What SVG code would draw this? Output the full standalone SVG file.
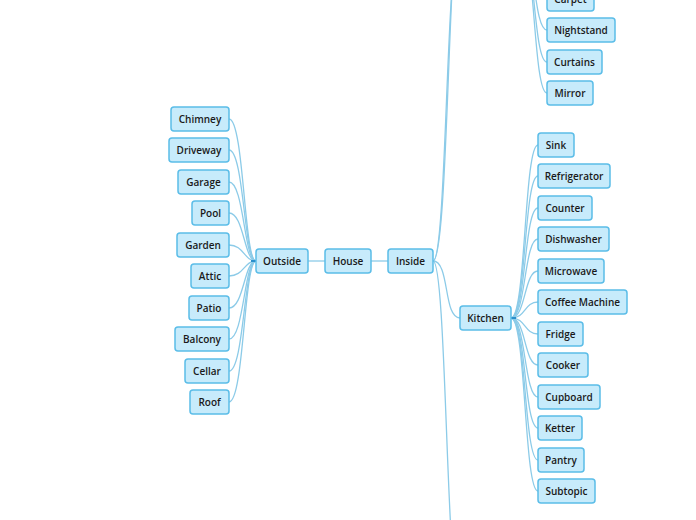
<svg xmlns="http://www.w3.org/2000/svg" width="696" height="520" viewBox="0 0 696 520">
<style>
.n rect{fill:#c7ebfb;stroke:#5bbde8;stroke-width:1.5}
.n text{font-family:"Open Sans","Noto Sans","DejaVu Sans",sans-serif;font-size:10px;font-weight:600;fill:#1a1a1a;text-anchor:middle;dominant-baseline:central}
.c path{fill:none;stroke:#8ccbe8;stroke-width:1.3}
.c .j{stroke:#2a8fcb;stroke-width:2}
</style>
<rect width="696" height="520" fill="#ffffff"/>
<g id="connectors" class="c">
<path d="M256,261 C244,261 244,119 229,119"/>
<path d="M256,261 C244,261 244,150 229,150"/>
<path d="M256,261 C244,261 244,182 229,182"/>
<path d="M256,261 C244,261 244,213 229,213"/>
<path d="M256,261 C244,261 244,245 229,245"/>
<path d="M256,261 C244,261 244,276 229,276"/>
<path d="M256,261 C244,261 244,308 229,308"/>
<path d="M256,261 C244,261 244,339 229,339"/>
<path d="M256,261 C244,261 244,371 229,371"/>
<path d="M256,261 C244,261 244,402 229,402"/>
<path d="M308,261 L325,261"/>
<path d="M371,261 L388,261"/>
<path d="M433,261 C447,261 446,-60 460,-60"/>
<path d="M433,261 C449,261 448,-100 462,-100"/>
<path d="M433,261 C450,261 443,318 460,318"/>
<path d="M433,261 C447,261 446,600 460,600"/>
<path d="M520,-60 C535,-60 533,-1 547,-1"/>
<path d="M520,-60 C535,-60 533,30 547,30"/>
<path d="M520,-60 C535,-60 533,62 547,62"/>
<path d="M520,-60 C535,-60 533,93 547,93"/>
<path d="M511,318 C526,318 524,145 538,145"/>
<path d="M511,318 C526,318 524,176 538,176"/>
<path d="M511,318 C526,318 524,208 538,208"/>
<path d="M511,318 C526,318 524,239 538,239"/>
<path d="M511,318 C526,318 524,271 538,271"/>
<path d="M511,318 C526,318 524,302 538,302"/>
<path d="M511,318 C526,318 524,334 538,334"/>
<path d="M511,318 C526,318 524,365 538,365"/>
<path d="M511,318 C526,318 524,397 538,397"/>
<path d="M511,318 C526,318 524,428 538,428"/>
<path d="M511,318 C526,318 524,460 538,460"/>
<path d="M511,318 C526,318 524,491 538,491"/>
<path class="j" d="M251,261 L256,261"/>
<path class="j" d="M511,318 L516,318"/>
</g>
<g id="chimney" class="n"><rect x="171" y="107" width="58" height="24" rx="3"/><text x="200" y="119">Chimney</text></g>
<g id="driveway" class="n"><rect x="169" y="138" width="60" height="24" rx="3"/><text x="199" y="150">Driveway</text></g>
<g id="garage" class="n"><rect x="178" y="170" width="51" height="24" rx="3"/><text x="203.5" y="182">Garage</text></g>
<g id="pool" class="n"><rect x="192" y="201" width="37" height="24" rx="3"/><text x="210.5" y="213">Pool</text></g>
<g id="garden" class="n"><rect x="177" y="233" width="52" height="24" rx="3"/><text x="203" y="245">Garden</text></g>
<g id="attic" class="n"><rect x="191" y="264" width="38" height="24" rx="3"/><text x="210" y="276">Attic</text></g>
<g id="patio" class="n"><rect x="189" y="296" width="40" height="24" rx="3"/><text x="209" y="308">Patio</text></g>
<g id="balcony" class="n"><rect x="175" y="327" width="54" height="24" rx="3"/><text x="202" y="339">Balcony</text></g>
<g id="cellar" class="n"><rect x="185" y="359" width="44" height="24" rx="3"/><text x="207" y="371">Cellar</text></g>
<g id="roof" class="n"><rect x="190" y="390" width="39" height="24" rx="3"/><text x="209.5" y="402">Roof</text></g>
<g id="outside" class="n"><rect x="256" y="249" width="52" height="24" rx="3"/><text x="282" y="261">Outside</text></g>
<g id="house" class="n"><rect x="325" y="249" width="46" height="24" rx="3"/><text x="348" y="261">House</text></g>
<g id="inside" class="n"><rect x="388" y="249" width="45" height="24" rx="3"/><text x="410.5" y="261">Inside</text></g>
<g id="carpet" class="n"><rect x="547" y="-13" width="47" height="24" rx="3"/><text x="570.5" y="-1">Carpet</text></g>
<g id="nightstand" class="n"><rect x="547" y="18" width="68" height="24" rx="3"/><text x="581" y="30">Nightstand</text></g>
<g id="curtains" class="n"><rect x="547" y="50" width="55" height="24" rx="3"/><text x="574.5" y="62">Curtains</text></g>
<g id="mirror" class="n"><rect x="547" y="81" width="46" height="24" rx="3"/><text x="570" y="93">Mirror</text></g>
<g id="kitchen" class="n"><rect x="460" y="306" width="51" height="24" rx="3"/><text x="485.5" y="318">Kitchen</text></g>
<g id="sink" class="n"><rect x="538" y="133" width="36" height="24" rx="3"/><text x="556" y="145">Sink</text></g>
<g id="refrigerator" class="n"><rect x="538" y="164" width="72" height="24" rx="3"/><text x="574" y="176">Refrigerator</text></g>
<g id="counter" class="n"><rect x="538" y="196" width="54" height="24" rx="3"/><text x="565" y="208">Counter</text></g>
<g id="dishwasher" class="n"><rect x="538" y="227" width="71" height="24" rx="3"/><text x="573.5" y="239">Dishwasher</text></g>
<g id="microwave" class="n"><rect x="538" y="259" width="66" height="24" rx="3"/><text x="571" y="271">Microwave</text></g>
<g id="coffee-machine" class="n"><rect x="538" y="290" width="89" height="24" rx="3"/><text x="582.5" y="302">Coffee Machine</text></g>
<g id="fridge" class="n"><rect x="538" y="322" width="45" height="24" rx="3"/><text x="560.5" y="334">Fridge</text></g>
<g id="cooker" class="n"><rect x="538" y="353" width="50" height="24" rx="3"/><text x="563" y="365">Cooker</text></g>
<g id="cupboard" class="n"><rect x="538" y="385" width="62" height="24" rx="3"/><text x="569" y="397">Cupboard</text></g>
<g id="ketter" class="n"><rect x="538" y="416" width="44" height="24" rx="3"/><text x="560" y="428">Ketter</text></g>
<g id="pantry" class="n"><rect x="538" y="448" width="46" height="24" rx="3"/><text x="561" y="460">Pantry</text></g>
<g id="subtopic" class="n"><rect x="538" y="479" width="57" height="24" rx="3"/><text x="566.5" y="491">Subtopic</text></g>
</svg>
